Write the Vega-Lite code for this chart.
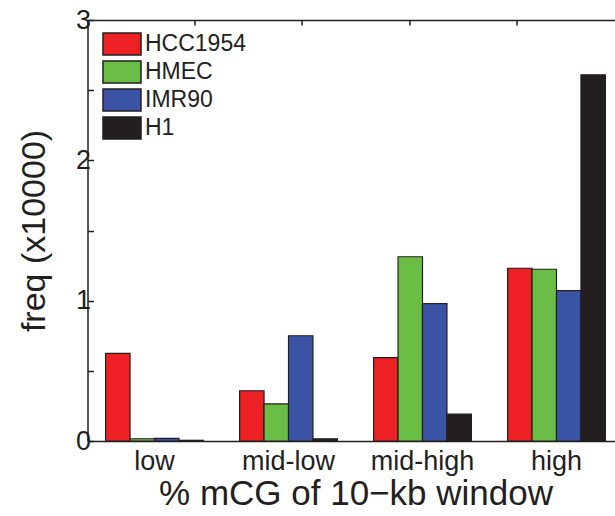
{
  "$schema": "https://vega.github.io/schema/vega-lite/v6.json",
  "autosize": "none",
  "width": 527.5,
  "height": 421,
  "padding": {"left": 87.5, "top": 20, "right": 0, "bottom": 75},
  "background": "white",
  "config": {
    "view": {"stroke": null},
    "font": "Liberation Sans",
    "axis": {"grid": false, "domainColor": "#231F20", "tickColor": "#231F20", "labelColor": "#231F20", "titleColor": "#231F20", "domainWidth": 1.5, "tickWidth": 1.5, "titleFontWeight": "normal", "labelFont": "Liberation Sans", "titleFont": "Liberation Sans"}
  },
  "layer": [
    {
      "data": {
        "values": [
          {"window": "low", "cell": "HCC1954", "freq": 0.625},
          {"window": "low", "cell": "HMEC", "freq": 0.016},
          {"window": "low", "cell": "IMR90", "freq": 0.018},
          {"window": "low", "cell": "H1", "freq": 0.005},
          {"window": "mid-low", "cell": "HCC1954", "freq": 0.358},
          {"window": "mid-low", "cell": "HMEC", "freq": 0.264},
          {"window": "mid-low", "cell": "IMR90", "freq": 0.75},
          {"window": "mid-low", "cell": "H1", "freq": 0.016},
          {"window": "mid-high", "cell": "HCC1954", "freq": 0.594},
          {"window": "mid-high", "cell": "HMEC", "freq": 1.313},
          {"window": "mid-high", "cell": "IMR90", "freq": 0.979},
          {"window": "mid-high", "cell": "H1", "freq": 0.192},
          {"window": "high", "cell": "HCC1954", "freq": 1.231},
          {"window": "high", "cell": "HMEC", "freq": 1.224},
          {"window": "high", "cell": "IMR90", "freq": 1.071},
          {"window": "high", "cell": "H1", "freq": 2.609}
        ]
      },
      "mark": {"type": "bar", "stroke": "#231F20", "strokeWidth": 1.2},
      "encoding": {
        "x": {
          "field": "window", "type": "nominal",
          "sort": ["low", "mid-low", "mid-high", "high"],
          "scale": {"range": [0, 536], "paddingInner": 0.27, "paddingOuter": 0.135},
          "axis": {"title": "% mCG of 10\u2212kb window", "titleFontSize": 35, "labelFontSize": 27, "labelAngle": 0, "ticks": false, "labelPadding": 7, "titlePadding": 2}
        },
        "xOffset": {
          "field": "cell", "type": "nominal",
          "sort": ["HCC1954", "HMEC", "IMR90", "H1"],
          "scale": {"paddingInner": 0, "paddingOuter": 0}
        },
        "y": {
          "field": "freq", "type": "quantitative",
          "scale": {"domain": [0, 3], "nice": false},
          "axis": {"title": "freq (x10000)", "titleFontSize": 34, "labelFontSize": 27, "values": [0, 0.5, 1, 1.5, 2, 2.5, 3], "labelExpr": "datum.value % 1 === 0 ? format(datum.value, 'd') : ''", "tickSize": -6, "labelPadding": 3, "titlePadding": 24}
        },
        "color": {
          "field": "cell", "type": "nominal",
          "sort": ["HCC1954", "HMEC", "IMR90", "H1"],
          "scale": {"domain": ["HCC1954", "HMEC", "IMR90", "H1"], "range": ["#ED2024", "#6BBE45", "#3A53A4", "#231F20"]},
          "legend": {
            "orient": "none", "legendX": 22.5, "legendY": 12, "title": null, "padding": 0,
            "symbolType": "M-1.727,-1H1.727V1H-1.727Z", "symbolSize": 484,
            "symbolStrokeColor": "#231F20", "symbolStrokeWidth": 1.5, "symbolOpacity": 1,
            "labelFontSize": 23, "labelColor": "#231F20", "labelFont": "Liberation Sans",
            "rowPadding": 0, "labelOffset": 11
          }
        }
      }
    },
    {
      "data": {"values": [{"t": 0}, {"t": 1}]},
      "mark": {"type": "point", "opacity": 0},
      "encoding": {
        "x": {
          "field": "t", "type": "quantitative",
          "scale": {"domain": [0, 1], "nice": false, "range": [0, 536]},
          "axis": {"orient": "top", "values": [0.2, 0.4, 0.6, 0.8], "labels": false, "tickSize": -5, "title": null}
        }
      }
    }
  ],
  "resolve": {"scale": {"x": "independent", "color": "independent"}, "axis": {"x": "independent"}}
}
